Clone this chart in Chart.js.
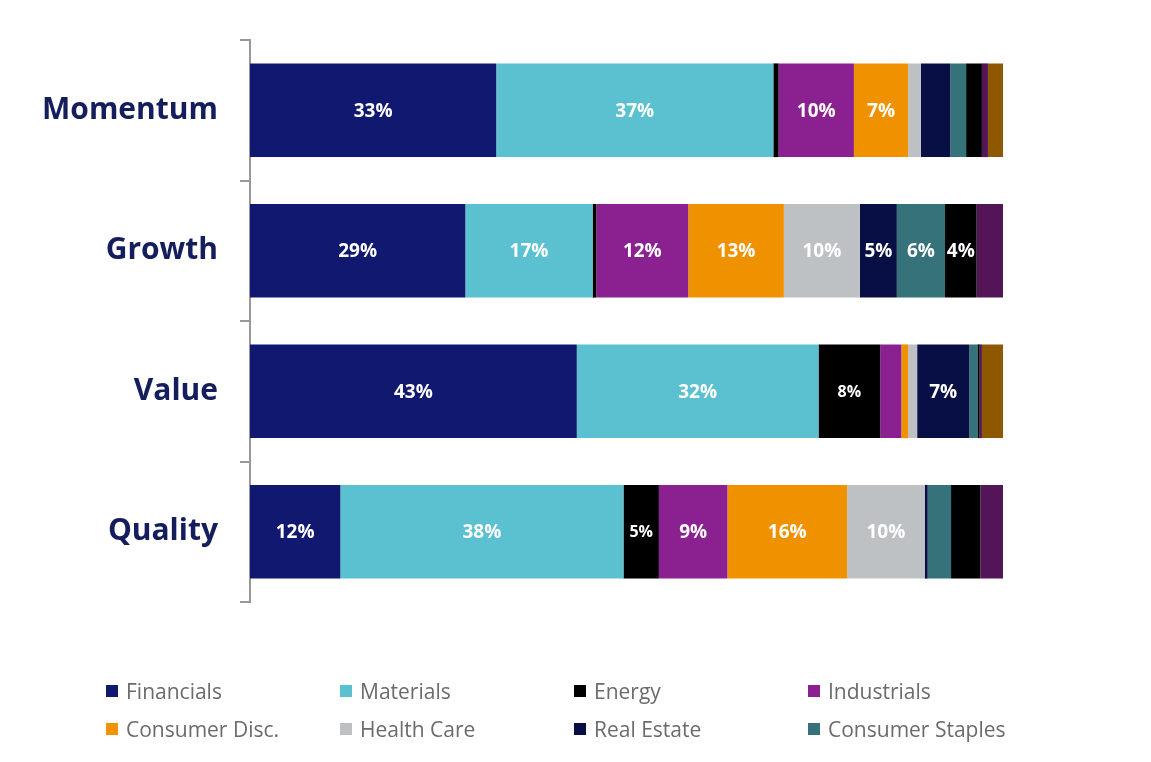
<!DOCTYPE html>
<html>
<head>
<meta charset="utf-8">
<script src="https://cdn.jsdelivr.net/npm/chart.js@4"></script>
<style>
  body { margin: 0; background: #fff; font-family: "Open Sans", sans-serif; }
  #wrap { position: relative; width: 1151px; height: 762px; }
  #legend {
    position: absolute; left: 106px; top: 676px;
    display: grid; grid-template-columns: 234px 234px 234px 234px;
    row-gap: 8px;
  }
  .item { display: flex; align-items: center; height: 30px; color: #6b6b6b; font-size: 21px; }
  .box { width: 12px; height: 12px; margin-right: 8px; flex: none; }
</style>
</head>
<body>
<div id="wrap">
  <canvas id="sectorChart" width="1151" height="762"></canvas>
  <div id="legend"></div>
</div>
<script>
// Catégories (facteurs)
const factors = ['Momentum', 'Growth', 'Value', 'Quality'];

// Secteurs affichés dans la légende
const sectors = ['Financials', 'Materials', 'Energy', 'Industrials',
  'Consumer Disc.', 'Health Care', 'Real Estate', 'Consumer Staples'];
// Secteurs restants (pas dans la légende)
const otherSectors = ['Other 1', 'Other 2', 'Other 3'];

const sectorColors = ['#11186f', '#5bc0cf', '#000000', '#8b2090',
  '#f09200', '#bec1c4', '#070f45', '#367279'];
const otherColors = ['#000000', '#531557', '#8e5800'];

// Poids (%) par facteur, dans l'ordre Momentum, Growth, Value, Quality
const financials = [32.7, 28.6, 43.4, 12.0];
const materials = [36.8, 16.9, 32.1, 37.6];
const energy = [0.7, 0.5, 8.2, 4.7];
const industrials = [10.0, 12.2, 2.8, 9.1];
const consumerDisc = [7.2, 12.7, 0.9, 15.9];
const healthCare = [1.7, 10.1, 1.2, 10.3];
const realEstate = [3.9, 4.9, 6.9, 0.4];
const consumerStaples = [2.1, 6.4, 1.1, 3.1];
const other1 = [2.1, 4.2, 0.3, 3.9];
const other2 = [0.8, 3.6, 0.3, 3.1];
const other3 = [2.0, 0.0, 2.8, 0.0];

const sectorValues = [financials, materials, energy, industrials,
  consumerDisc, healthCare, realEstate, consumerStaples];
const otherValues = [other1, other2, other3];

const datasets = sectors.map((name, i) => ({
  label: name, data: sectorValues[i], backgroundColor: sectorColors[i]
})).concat(otherSectors.map((name, i) => ({
  label: name, data: otherValues[i], backgroundColor: otherColors[i]
})));

// Étiquettes de pourcentage dans les segments
const segmentLabels = {
  id: 'segmentLabels',
  afterDatasetsDraw(chart) {
    const c = chart.ctx;
    c.save();
    c.fillStyle = '#ffffff';
    c.textAlign = 'center';
    c.textBaseline = 'middle';
    chart.data.datasets.forEach((ds, i) => {
      // les étiquettes Energy sont un peu plus petites sur l'original
      c.font = 'bold ' + (ds.label === 'Energy' ? 16 : 19) + 'px "Open Sans"';
      chart.getDatasetMeta(i).data.forEach((bar, j) => {
        const v = ds.data[j];
        if (v >= 4) {
          const p = bar.getCenterPoint();
          c.fillText(Math.round(v) + '%', p.x, p.y + 1);
        }
      });
    });
    c.restore();
  }
};

const ctx = document.getElementById('sectorChart').getContext('2d');
const chart = new Chart(ctx, {
  type: 'bar',
  data: { labels: factors, datasets: datasets },
  options: {
    indexAxis: 'y',
    responsive: false,
    animation: false,
    layout: { padding: { top: 38, left: 42, right: 148, bottom: 160 } },
    datasets: { bar: { categoryPercentage: 0.667, barPercentage: 1, borderWidth: 0 } },
    plugins: { legend: { display: false }, tooltip: { enabled: false } },
    scales: {
      x: { stacked: true, min: 0, max: 100, display: false },
      y: {
        stacked: true,
        afterFit: s => { s.width = 208; },
        border: { color: '#999999', width: 2 },
        grid: { drawOnChartArea: false, color: '#999999', lineWidth: 2, tickLength: 10, offset: true },
        ticks: { color: '#141e5c', padding: 22, font: { family: 'Open Sans', size: 30, weight: 'bold' } }
      }
    }
  },
  plugins: [segmentLabels]
});

// Légende HTML en grille
const legend = document.getElementById('legend');
sectors.forEach((name, i) => {
  const item = document.createElement('div');
  item.className = 'item';
  item.innerHTML = '<span class="box" style="background:' + sectorColors[i] + '"></span>' + name;
  legend.appendChild(item);
});
</script>
</body>
</html>
